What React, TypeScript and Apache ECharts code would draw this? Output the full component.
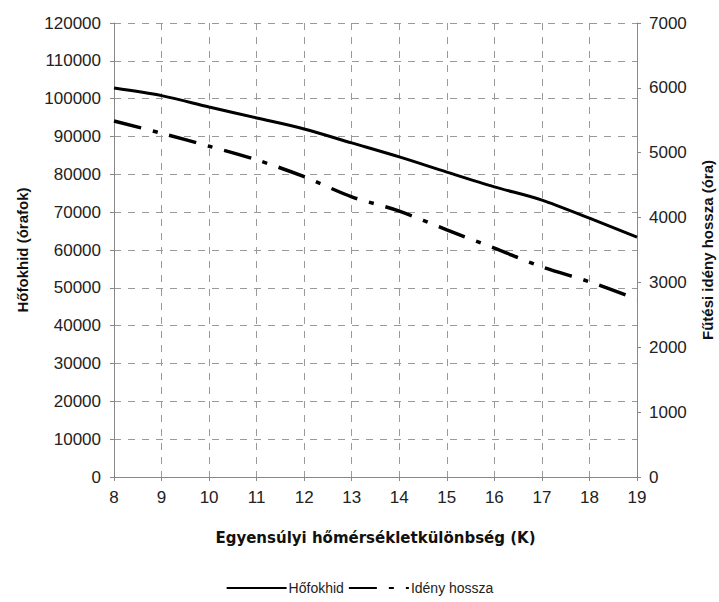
import React, { useEffect, useRef } from "react";
import * as echarts from "echarts";

const xValues = [8, 9, 10, 11, 12, 13, 14, 15, 16, 17, 18, 19];
const hofokhid = [102800, 100800, 97800, 94900, 92000, 88300, 84600, 80600, 76700, 73200, 68400, 63400];
const idenyHossza = [5490, 5300, 5100, 4890, 4630, 4320, 4100, 3810, 3530, 3240, 3010, 2740];

const FONT = "Liberation Sans, Arial, sans-serif";

export default function App() {
  const ref = useRef<HTMLDivElement>(null);
  useEffect(() => {
    const chart = echarts.init(ref.current!, null, { renderer: "svg" });
    const gridLine = { show: true, lineStyle: { color: "#9a9a9a", type: [7, 7] as any, width: 1 } };
    const fmt = (v: number) => String(v);
    chart.setOption({
      animation: false,
      backgroundColor: "#fff",
      grid: { left: 114, right: 82, top: 23, bottom: 125, outerBoundsMode: "none" } as any,
      legend: {
        bottom: 2,
        left: "center",
        itemWidth: 60,
        itemHeight: 10,
        itemGap: 4,
        itemStyle: { opacity: 0 },
        textStyle: { fontFamily: FONT, fontSize: 14, color: "#222", padding: [0, 0, 0, -3] },
        data: ["Hőfokhid", "Idény hossza"],
      },
      xAxis: {
        type: "value",
        min: 8,
        max: 19,
        interval: 1,
        name: "Egyensúlyi hőmérsékletkülönbség (K)",
        nameLocation: "middle",
        nameGap: 53,
        nameTextStyle: { fontFamily: "DejaVu Sans, sans-serif", fontSize: 15, fontWeight: "bold", color: "#111" },
        axisLine: { show: true, lineStyle: { color: "#888" } },
        axisTick: { show: true, inside: false, length: 4, lineStyle: { color: "#888" } },
        axisLabel: { fontFamily: FONT, fontSize: 17, color: "#222", margin: 12, formatter: fmt },
        splitLine: gridLine,
      },
      yAxis: [
        {
          type: "value",
          min: 0,
          max: 120000,
          interval: 10000,
          name: "Hőfokhid (órafok)",
          nameLocation: "middle",
          nameRotate: 90,
          nameGap: 84,
          nameTextStyle: { fontFamily: FONT, fontSize: 15, fontWeight: "bold", color: "#111" },
          axisLine: { show: true, lineStyle: { color: "#888" } },
          axisTick: { show: true, length: 4, lineStyle: { color: "#888" } },
          axisLabel: { fontFamily: FONT, fontSize: 17, color: "#222", margin: 13, formatter: fmt },
          splitLine: gridLine,
        },
        {
          type: "value",
          min: 0,
          max: 7000,
          interval: 1000,
          position: "right",
          name: "Fűtési idény hossza (óra)",
          nameLocation: "middle",
          nameRotate: 90,
          nameGap: 63,
          nameTextStyle: { fontFamily: FONT, fontSize: 15, fontWeight: "bold", color: "#111" },
          axisLine: { show: true, lineStyle: { color: "#888" } },
          axisTick: { show: true, length: 4, lineStyle: { color: "#888" } },
          axisLabel: { fontFamily: FONT, fontSize: 17, color: "#222", margin: 12, formatter: fmt },
          splitLine: { show: false },
        },
      ],
      series: [
        {
          name: "Hőfokhid",
          type: "line",
          yAxisIndex: 0,
          smooth: 0.3,
          symbol: "none",
          lineStyle: { color: "#000", width: 3 },
          itemStyle: { color: "#000" },
          data: xValues.map((x, i) => [x, hofokhid[i]]),
        },
        {
          name: "Idény hossza",
          type: "line",
          yAxisIndex: 1,
          smooth: 0.3,
          symbol: "none",
          lineStyle: { color: "#000", width: 3.5, type: [28, 12, 5, 12] },
          itemStyle: { color: "#000" },
          data: xValues.map((x, i) => [x, idenyHossza[i]]),
        },
      ],
    });
    return () => chart.dispose();
  }, []);
  return (
    <div
      ref={ref}
      style={{ position: "absolute", left: 0, top: 0, width: 719, height: 602 }}
    />
  );
}
